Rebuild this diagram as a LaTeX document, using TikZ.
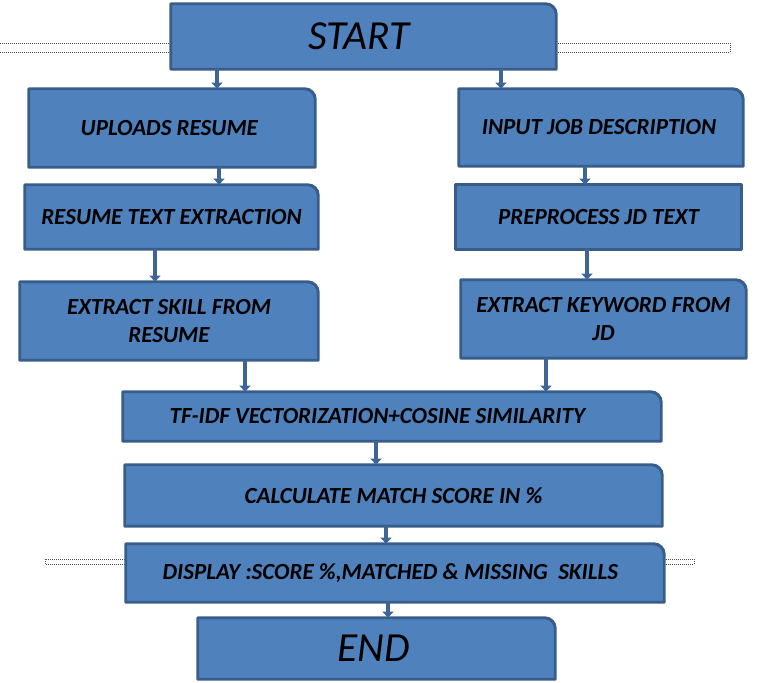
\documentclass[tikz,border=0pt]{standalone}
\usepackage{fontspec}
\setmainfont{Carlito}
\usetikzlibrary{arrows.meta,backgrounds}
\definecolor{boxfill}{HTML}{4F81BD}
\definecolor{boxedge}{HTML}{385D8A}
\definecolor{arrcol}{HTML}{3F6496}
\tikzset{
  bsz/.style 2 args={minimum width=#1*0.75pt,minimum height=#2*0.75pt},
  stepbox/.style={inner sep=0pt,align=center,font=\bfseries\itshape\fontsize{17.3}{20.3}\selectfont},
  termbox/.style={inner sep=0pt,align=center,font=\itshape\fontsize{31}{34}\selectfont},
  boxline/.style={draw=boxedge,fill=boxfill,line width=2.2pt,line join=round},
  guide/.style={draw=black!70,densely dotted,line width=0.5pt},
  arr/.style={draw=arrcol,line width=3.2pt,-{Triangle[width=8pt,length=4.5pt]}}
}
\begin{document}
\begin{tikzpicture}[x=0.75pt,y=-0.75pt]
\useasboundingbox (0,0) rectangle (762,682);
% nodes
\node[termbox,bsz={385}{65}] (start) at (363.5,36.5) {\hspace*{-7pt}START};
\node[stepbox,bsz={286}{78}] (up) at (172,128) {\hspace*{-4pt}UPLOADS RESUME};
\node[stepbox,bsz={284}{77}] (inp) at (601,127.5) {\hspace*{-3pt}INPUT JOB DESCRIPTION};
\node[stepbox,bsz={293}{64}] (rte) at (171.5,217) {RESUME TEXT EXTRACTION};
\node[stepbox,bsz={285}{64}] (pre) at (598.5,217) {PREPROCESS JD TEXT};
\node[stepbox,bsz={298}{78}] (esk) at (169,321) {EXTRACT SKILL FROM\\RESUME};
\node[stepbox,bsz={285}{78}] (ekw) at (603.5,319) {EXTRACT KEYWORD FROM\\JD};
\node[stepbox,bsz={538}{49}] (tf) at (392,416.5) {TF-IDF VECTORIZATION+COSINE SIMILARITY\hspace*{22pt}};
\node[stepbox,bsz={537}{61}] (calc) at (393.5,495.5) {CALCULATE MATCH SCORE IN \%};
\node[stepbox,bsz={538}{58}] (disp) at (395,573) {\hspace*{-7pt}DISPLAY :SCORE \%,MATCHED \& MISSING\ \ SKILLS};
\node[termbox,bsz={357}{61}] (end) at (376.5,648.5) {\hspace*{-4pt}END};
% shapes behind the text
\begin{scope}[on background layer]
  \draw[guide] (0,43) -- (730,43) -- (730,52) -- (0,52);
  \draw[guide] (45,559) rectangle (694,564);
  \foreach \n in {start,up,inp,rte,esk,ekw,tf,calc,disp,end}
    \draw[boxline] (\n.south west) -- (\n.north west) -- ([xshift=-8pt]\n.north east)
      arc[start angle=90,end angle=0,radius=8pt] -- (\n.south east) -- cycle;
  \draw[boxline] (pre.south west) rectangle (pre.north east);
\end{scope}
% connectors
\draw[arr] (start.south -| 217,0) -- (up.north -| 217,0);
\draw[arr] (start.south -| 501,0) -- (inp.north -| 501,0);
\draw[arr] (up.south -| 219,0) -- (rte.north -| 219,0);
\draw[arr] (inp.south -| 585,0) -- (pre.north -| 585,0);
\draw[arr] (rte.south -| 155,0) -- (esk.north -| 155,0);
\draw[arr] (pre.south -| 587,0) -- (ekw.north -| 587,0);
\draw[arr] (esk.south -| 245,0) -- (tf.north -| 245,0);
\draw[arr] (ekw.south -| 546,0) -- (tf.north -| 546,0);
\draw[arr] (tf.south -| 376,0) -- (calc.north -| 376,0);
\draw[arr] (calc.south -| 386,0) -- (disp.north -| 386,0);
\draw[arr] (disp.south -| 388,0) -- (end.north -| 388,0);
\end{tikzpicture}
\end{document}
